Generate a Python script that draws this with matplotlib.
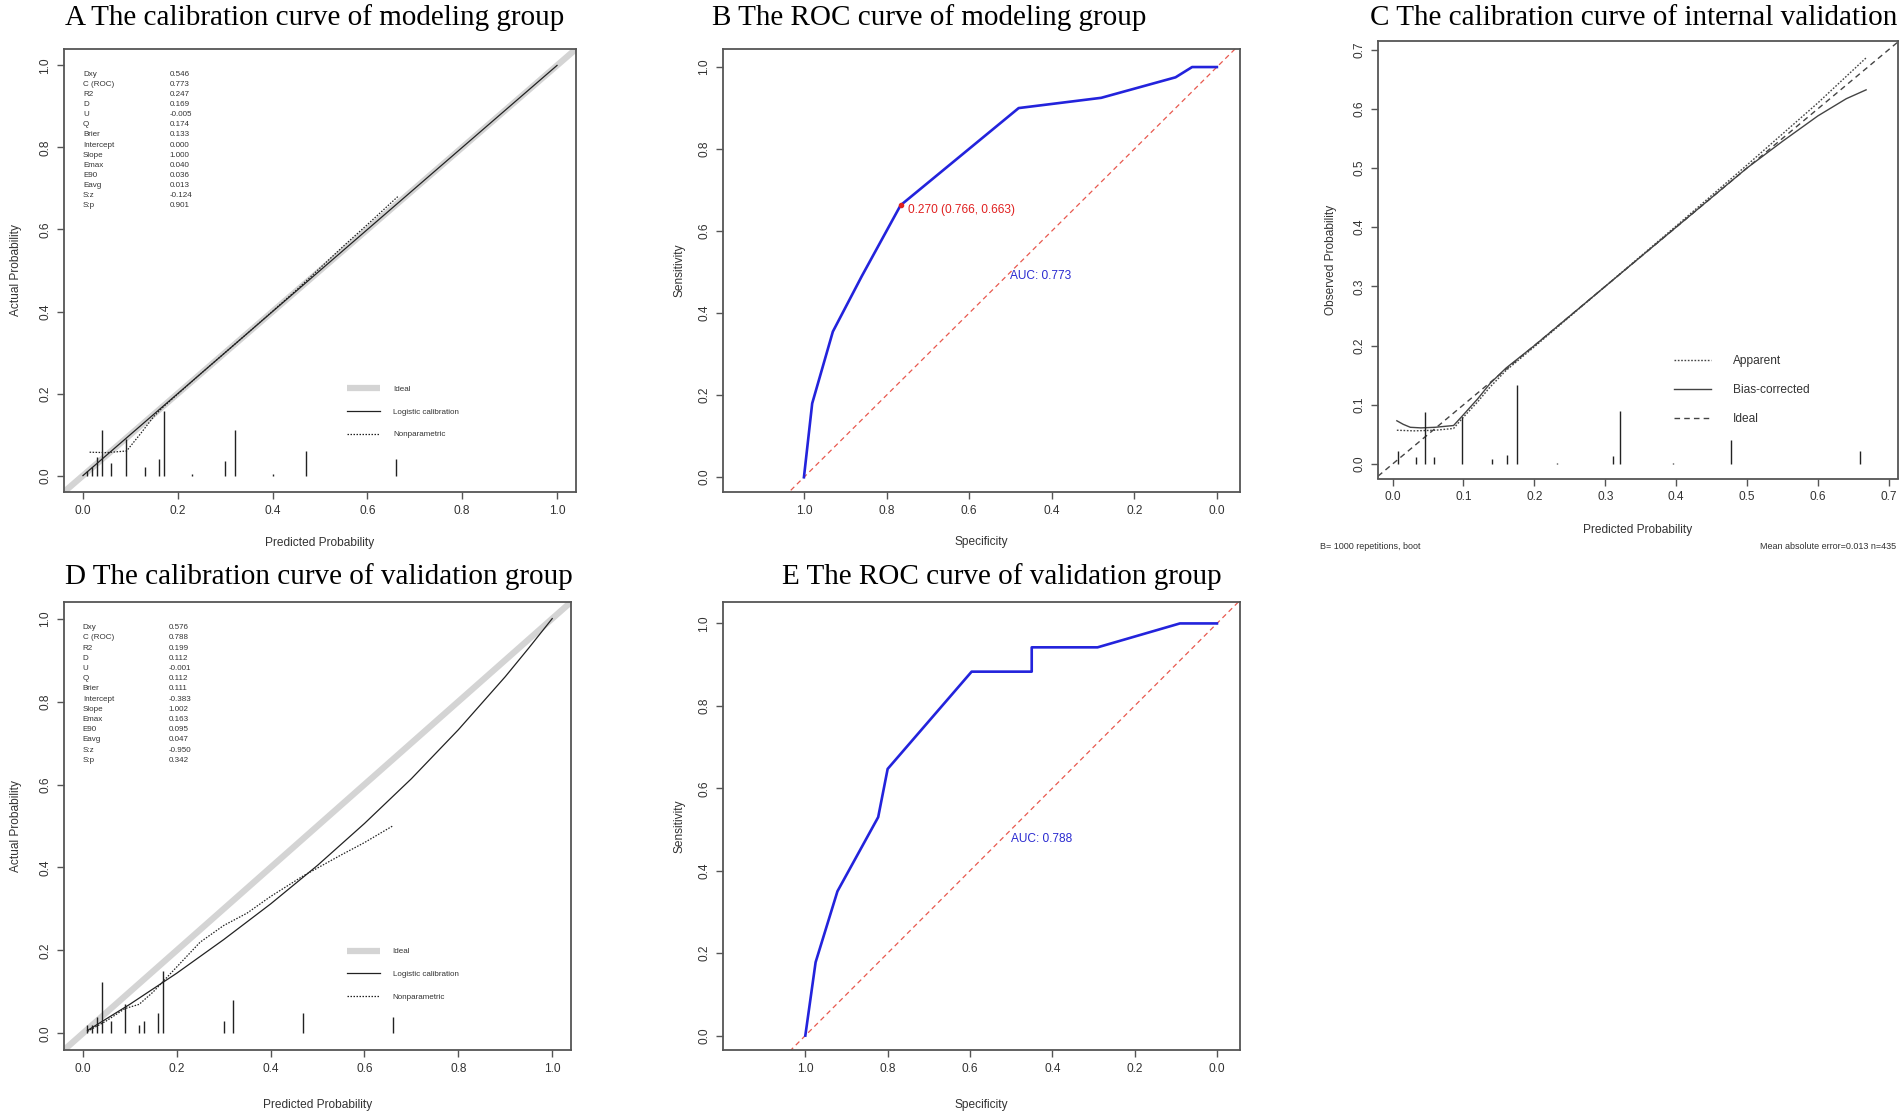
import matplotlib
matplotlib.use("Agg")
import matplotlib.pyplot as plt

W, H = 1902, 1118

# ---- data ----
stat_names = ["Dxy", "C (ROC)", "R2", "D", "U", "Q", "Brier", "Intercept",
              "Slope", "Emax", "E90", "Eavg", "S:z", "S:p"]
stats_model = ["0.546", "0.773", "0.247", "0.169", "-0.005", "0.174", "0.133",
               "0.000", "1.000", "0.040", "0.036", "0.013", "-0.124", "0.901"]
stats_valid = ["0.576", "0.788", "0.199", "0.112", "-0.001", "0.112", "0.111",
               "-0.383", "1.002", "0.163", "0.095", "0.047", "-0.950", "0.342"]

# A: modeling group calibration
logit_a_x = [0.0, 1.0]
logit_a_y = [0.0, 1.0]
np_a_x = [0.014, 0.05, 0.092, 0.12, 0.15, 0.17, 0.25, 0.35, 0.45, 0.55, 0.60, 0.664]
np_a_y = [0.057, 0.056, 0.060, 0.100, 0.145, 0.168, 0.250, 0.350, 0.452, 0.560, 0.612, 0.680]
rug_a_x = [0.008, 0.02, 0.03, 0.04, 0.06, 0.09, 0.13, 0.16, 0.17, 0.23, 0.30, 0.32, 0.40, 0.47, 0.66]
rug_a_h = [0.012, 0.02, 0.045, 0.11, 0.03, 0.09, 0.02, 0.04, 0.157, 0.005, 0.035, 0.11, 0.003, 0.06, 0.04]

# D: validation group calibration
logit_d_x = [0.01, 0.05, 0.1, 0.2, 0.3, 0.4, 0.5, 0.6, 0.7, 0.8, 0.9, 0.95, 1.0]
logit_d_y = [0.007, 0.035, 0.070, 0.145, 0.226, 0.312, 0.405, 0.506, 0.614, 0.732, 0.860, 0.929, 1.0]
np_d_x = [0.01, 0.05, 0.09, 0.12, 0.15, 0.20, 0.25, 0.30, 0.35, 0.40, 0.47, 0.55, 0.60, 0.66]
np_d_y = [0.005, 0.030, 0.060, 0.070, 0.100, 0.160, 0.220, 0.260, 0.290, 0.330, 0.380, 0.430, 0.460, 0.500]
rug_d_x = [0.01, 0.02, 0.03, 0.04, 0.06, 0.09, 0.12, 0.13, 0.16, 0.17, 0.30, 0.32, 0.47, 0.66]
rug_d_h = [0.02, 0.02, 0.04, 0.125, 0.03, 0.07, 0.02, 0.03, 0.05, 0.15, 0.03, 0.08, 0.05, 0.04]

# C: internal validation (bootstrap)
app_x = [0.006, 0.03, 0.06, 0.086, 0.0975, 0.12, 0.1375, 0.16, 0.2, 0.3, 0.4, 0.5, 0.6, 0.668]
app_y = [0.057, 0.056, 0.057, 0.060, 0.076, 0.105, 0.130, 0.158, 0.198, 0.300, 0.402, 0.505, 0.610, 0.686]
bias_x = [0.006, 0.015, 0.025, 0.04, 0.06, 0.086, 0.0975, 0.12, 0.1375, 0.16, 0.2, 0.3, 0.4,
          0.5, 0.55, 0.6, 0.64, 0.668]
bias_y = [0.073, 0.067, 0.062, 0.061, 0.062, 0.065, 0.080, 0.110, 0.136, 0.162, 0.200, 0.300,
          0.400, 0.500, 0.545, 0.588, 0.617, 0.632]
rug_c_x = [0.007, 0.033, 0.046, 0.058, 0.0975, 0.14, 0.162, 0.175, 0.232, 0.311, 0.321, 0.395, 0.477, 0.66]
rug_c_h = [0.022, 0.012, 0.088, 0.012, 0.080, 0.008, 0.015, 0.133, 0.002, 0.013, 0.090, 0.002, 0.041, 0.022]

# B / E: ROC curves (specificity, sensitivity)
roc_b_spec = [1.0, 0.98, 0.93, 0.86, 0.766, 0.48, 0.28, 0.10, 0.06, 0.0]
roc_b_sens = [0.0, 0.18, 0.355, 0.49, 0.663, 0.90, 0.925, 0.975, 1.0, 1.0]
thr_b = (0.766, 0.663)
thr_b_label = "0.270 (0.766, 0.663)"
roc_e_spec = [1.0, 0.975, 0.922, 0.823, 0.80, 0.596, 0.45, 0.45, 0.29, 0.09, 0.0]
roc_e_sens = [0.0, 0.178, 0.35, 0.53, 0.647, 0.883, 0.883, 0.942, 0.942, 1.0, 1.0]
auc_b = "AUC: 0.773"
auc_e = "AUC: 0.788"

titles = ["A The calibration curve of modeling group",
          "B The ROC curve of modeling group",
          "C The calibration curve of internal validation",
          "D The calibration curve of validation group",
          "E The ROC curve of validation group"]

ticks_cal = [0.0, 0.2, 0.4, 0.6, 0.8, 1.0]
ticks_roc = [1.0, 0.8, 0.6, 0.4, 0.2, 0.0]
ticks_c = [0.0, 0.1, 0.2, 0.3, 0.4, 0.5, 0.6, 0.7]

SANS = "Liberation Sans"
SERIF = "Liberation Serif"
FRAME = "#555555"
TXT = "#333333"
LINE = "#222222"


def rect(box):
    left, top, right, bottom = box
    return [left / W, 1 - bottom / H, (right - left) / W, (bottom - top) / H]


def style(ax, box, xlim, ylim, xticks, yticks, xlabel, ylabel, xlab_top, ylab_right):
    left, top, right, bottom = box
    ax.set_xlim(xlim)
    ax.set_ylim(ylim)
    ax.set_xticks(xticks)
    ax.set_yticks(yticks)
    ax.set_xticklabels([f"{t:.1f}" for t in xticks], fontfamily=SANS)
    ax.set_yticklabels([f"{t:.1f}" for t in yticks], fontfamily=SANS,
                       rotation=90, va="center")
    for sp in ax.spines.values():
        sp.set_color(FRAME)
        sp.set_linewidth(1.3)
    ax.tick_params(direction="out", length=5, width=1, colors=FRAME,
                   labelcolor=TXT, labelsize=8.6, pad=4)
    ax.set_xlabel(xlabel, fontsize=8.6, color=TXT, fontfamily=SANS)
    ax.set_ylabel(ylabel, fontsize=8.6, color=TXT, fontfamily=SANS)
    ax.xaxis.set_label_coords(0.5, (bottom - xlab_top) / (bottom - top))
    ax.yaxis.set_label_coords((ylab_right - left) / (right - left), 0.5)


def calib_panel(ax, logit_x, logit_y, np_x, np_y, rug_x, rug_h, stats, legend_anchor):
    ax.axline((0, 0), slope=1, color="#d4d4d4", lw=4.5, solid_capstyle="butt",
              label="Ideal", zorder=1)
    ax.plot(logit_x, logit_y, color=LINE, lw=0.9, label="Logistic calibration", zorder=2)
    ax.plot(np_x, np_y, color=LINE, lw=0.9, ls=(0, (1.2, 1.2)), label="Nonparametric", zorder=2)
    ax.vlines(rug_x, 0, rug_h, color=LINE, lw=1.0, zorder=2)
    for i, (name, val) in enumerate(zip(stat_names, stats)):
        y = 0.978 - i * 0.0246
        ax.text(0.0, y, name, fontsize=5.8, color=TXT, family=SANS, va="center")
        ax.text(0.183, y, val, fontsize=5.8, color=TXT, family=SANS, va="center")
    ax.legend(loc="upper left", bbox_to_anchor=legend_anchor, frameon=False,
              prop={"family": SANS, "size": 5.8}, borderpad=0,
              borderaxespad=0, handlelength=4.1, handletextpad=1.6,
              labelspacing=1.85, labelcolor=TXT)


def roc_panel(ax, spec, sens, auc_text, auc_y):
    ax.axline((0, 1), slope=-1, color="#e8594f", lw=0.9, ls=(0, (4, 3)), zorder=1)
    ax.plot(spec, sens, color="#2323dc", lw=1.9, zorder=2)
    ax.text(0.5, auc_y, auc_text, color="#2a2ad0", fontsize=8.6, family=SANS,
            ha="left", va="center")


fig = plt.figure(figsize=(W / 100, H / 100), dpi=100)

box_a = (64, 49, 576, 492)
box_b = (723, 49, 1240, 492)
box_c = (1378, 41, 1898, 478.5)
box_d = (64, 602, 571, 1050)
box_e = (723, 602, 1240, 1050)

# A
ax_a = fig.add_axes(rect(box_a))
style(ax_a, box_a, (-0.04, 1.04), (-0.04, 1.04), ticks_cal, ticks_cal,
      "Predicted Probability", "Actual Probability", 537, 22)
calib_panel(ax_a, logit_a_x, logit_a_y, np_a_x, np_a_y, rug_a_x, rug_a_h,
            stats_model, (0.5527, 0.240))

# B
ax_b = fig.add_axes(rect(box_b))
style(ax_b, box_b, (1.196, -0.056), (-0.036, 1.044), ticks_roc, ticks_cal,
      "Specificity", "Sensitivity", 536, 686)
roc_panel(ax_b, roc_b_spec, roc_b_sens, auc_b, 0.49)
ax_b.plot([thr_b[0]], [thr_b[1]], "o", color="#e02020", ms=3, zorder=3)
ax_b.text(thr_b[0] - 0.018, thr_b[1] - 0.012, thr_b_label, color="#e02020",
          fontsize=8.6, family=SANS, ha="left", va="center")

# C
ax_c = fig.add_axes(rect(box_c))
style(ax_c, box_c, (-0.0206, 0.713), (-0.0245, 0.7145), ticks_c, ticks_c,
      "Predicted Probability", "Observed Probability", 524, 1337)
ax_c.plot(app_x, app_y, color="#444444", lw=1.0, ls=(0, (1.2, 1.2)), label="Apparent")
ax_c.plot(bias_x, bias_y, color="#444444", lw=1.0, label="Bias-corrected")
ax_c.axline((0, 0), slope=1, color="#444444", lw=1.0, ls=(0, (4, 3)), label="Ideal")
ax_c.vlines(rug_c_x, 0, rug_c_h, color=LINE, lw=1.0)
ax_c.legend(loc="upper left", bbox_to_anchor=(0.5683, 0.2823), frameon=False,
            prop={"family": SANS, "size": 8.6}, borderpad=0, borderaxespad=0,
            handlelength=3.1, handletextpad=1.85, labelspacing=1.43, labelcolor=TXT)
fig.text(1320 / W, 1 - 547 / H, "B= 1000 repetitions, boot", fontsize=6.5,
         color=TXT, family=SANS, ha="left", va="center")
fig.text(1896 / W, 1 - 547 / H, "Mean absolute error=0.013 n=435", fontsize=6.5,
         color=TXT, family=SANS, ha="right", va="center")

# D
ax_d = fig.add_axes(rect(box_d))
style(ax_d, box_d, (-0.04, 1.04), (-0.04, 1.04), ticks_cal, ticks_cal,
      "Predicted Probability", "Actual Probability", 1099, 22)
calib_panel(ax_d, logit_d_x, logit_d_y, np_d_x, np_d_y, rug_d_x, rug_d_h,
            stats_valid, (0.5574, 0.228))

# E
ax_e = fig.add_axes(rect(box_e))
style(ax_e, box_e, (1.2, -0.056), (-0.035, 1.052), ticks_roc, ticks_cal,
      "Specificity", "Sensitivity", 1099, 686)
roc_panel(ax_e, roc_e_spec, roc_e_sens, auc_e, 0.478)

# panel titles (x, y, horizontal alignment)
title_pos = [(65, 18, "left"), (712, 18, "left"), (1897, 18, "right"),
             (65, 577, "left"), (782, 577, "left")]
for t, (x, y, ha) in zip(titles, title_pos):
    fig.text(x / W, 1 - y / H, t, fontsize=21, family=SERIF, color="black",
             ha=ha, va="center")

fig.savefig("out.png", dpi=100)
